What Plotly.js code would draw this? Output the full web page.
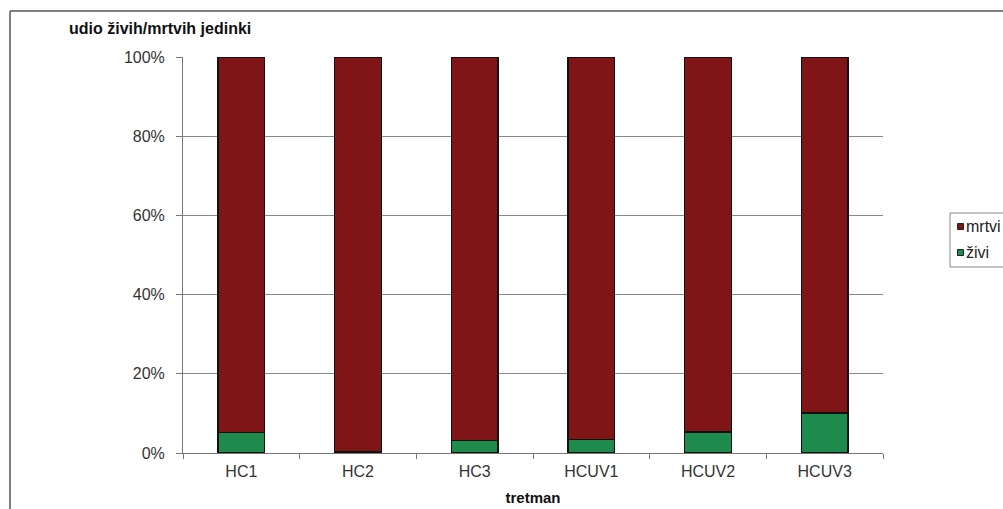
<!DOCTYPE html>
<html>
<head>
<meta charset="utf-8">
<script src="https://cdn.plot.ly/plotly-3.0.1.min.js"></script>
<style>
  html, body { margin: 0; padding: 0; background: #fff; }
  #chart { width: 1003px; height: 509px; }
</style>
</head>
<body>
<div id="chart"></div>
<script>
// Treatments and the share (%) of live / dead individuals in each
const categories = ['HC1', 'HC2', 'HC3', 'HCUV1', 'HCUV2', 'HCUV3'];
const zivi  = [5.1, 0.4, 3.1, 3.4, 5.3, 10.1];
const mrtvi = [94.9, 99.6, 96.9, 96.6, 94.7, 89.9];
const yTicks = [0, 20, 40, 60, 80, 100];
const yTickLabels = ['0%', '20%', '40%', '60%', '80%', '100%'];
const seriesNames = ['mrtvi', 'živi'];
const seriesColors = ['#7f1517', '#1e8b4d'];

const font = 'Liberation Sans, Arial, sans-serif';
const outline = { color: '#111', width: 1.3 };

// plot area in pixels, used to place the frame and key in paper units
const W = 1003, H = 509;
const M = { l: 183, r: 120, t: 57, b: 56 };
const pw = W - M.l - M.r, ph = H - M.t - M.b;
const px = v => (v - M.l) / pw;
const py = v => (H - M.b - v) / ph;

const traces = [
  {
    type: 'bar', name: seriesNames[1], x: categories, y: zivi,
    marker: { color: seriesColors[1], line: outline },
    hoverinfo: 'x+y+name'
  },
  {
    type: 'bar', name: seriesNames[0], x: categories, y: mrtvi,
    marker: { color: seriesColors[0], line: outline },
    hoverinfo: 'x+y+name'
  }
];

// key box with a small swatch per series
const keyShapes = [
  { type: 'rect', xref: 'paper', yref: 'paper',
    x0: px(950), x1: px(1012), y0: py(267), y1: py(213),
    line: { color: '#888', width: 1 }, fillcolor: 'rgba(0,0,0,0)' }
];
const keyNotes = [];
const keyRows = [226.5, 252.5];
seriesNames.forEach((name, i) => {
  const cy = keyRows[i];
  keyShapes.push({ type: 'rect', xref: 'paper', yref: 'paper',
    x0: px(957.5), x1: px(963.5), y0: py(cy + 3), y1: py(cy - 3),
    line: { color: '#222', width: 1 }, fillcolor: seriesColors[i] });
  keyNotes.push({ xref: 'paper', yref: 'paper', x: px(964), y: py(cy),
    xanchor: 'left', yanchor: 'middle', showarrow: false, text: name,
    font: { family: font, size: 16, color: '#222' } });
});

const layout = {
  width: W, height: H,
  margin: M,
  paper_bgcolor: '#fff', plot_bgcolor: '#fff',
  barmode: 'stack', bargap: 0.6,
  font: { family: font, size: 16, color: '#333' },
  showlegend: false,
  xaxis: {
    type: 'category',
    showline: true, linecolor: '#777', linewidth: 1,
    ticks: 'outside', ticklen: 5, tickcolor: '#777', tickson: 'boundaries',
    showgrid: false, zeroline: false,
    tickfont: { family: font, size: 16, color: '#333' },
    ticklabelstandoff: 4,
    title: { text: 'tretman', standoff: 13, font: { family: font, size: 15, color: '#111', weight: 'bold' } }
  },
  yaxis: {
    range: [0, 100],
    tickvals: yTicks, ticktext: yTickLabels,
    showline: true, linecolor: '#777', linewidth: 1,
    ticks: 'outside', ticklen: 6, tickcolor: '#777',
    showgrid: true, gridcolor: '#888', gridwidth: 1,
    zeroline: false,
    tickfont: { family: font, size: 16, color: '#333' },
    ticklabelstandoff: 8
  },
  annotations: [
    {
      xref: 'paper', yref: 'paper', x: px(67), y: py(29),
      xanchor: 'left', yanchor: 'middle', showarrow: false,
      text: '<b>udio živih/mrtvih jedinki</b>',
      font: { family: font, size: 16, color: '#111' }
    }
  ].concat(keyNotes),
  shapes: [
    // frame around the chart area (top and left edges)
    { type: 'line', xref: 'paper', yref: 'paper', x0: px(10), x1: px(1010), y0: py(11), y1: py(11),
      line: { color: '#555', width: 1.5 } },
    { type: 'line', xref: 'paper', yref: 'paper', x0: px(10), x1: px(10), y0: py(11), y1: py(515),
      line: { color: '#555', width: 1.5 } }
  ].concat(keyShapes)
};

Plotly.newPlot('chart', traces, layout, { displayModeBar: false, staticPlot: true });
</script>
</body>
</html>
